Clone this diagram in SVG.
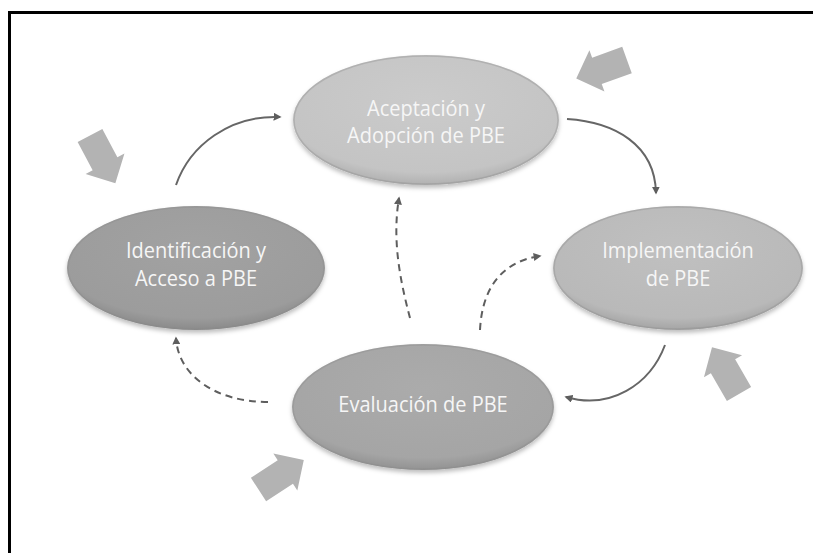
<svg xmlns="http://www.w3.org/2000/svg" width="813" height="553" viewBox="0 0 813 553">
  <style>
    .label { font-family: "Open Sans", "Liberation Sans", sans-serif; font-size: 20px; fill: #f6f6f6; text-anchor: middle; }
    .solid { fill: none; stroke: #666666; stroke-width: 2; marker-end: url(#head); }
    .dash { fill: none; stroke: #5e5e5e; stroke-width: 2; stroke-dasharray: 7 5; marker-end: url(#head); }
    .block { fill: #b3b3b3; }
    .rim { fill: none; stroke: #8a8a8a; stroke-opacity: 0.35; stroke-width: 1.5; }
  </style>
  <defs>
    <marker id="head" viewBox="0 0 10 10" refX="8" refY="5" markerWidth="4" markerHeight="4" orient="auto" markerUnits="strokeWidth">
      <path d="M0,0 L10,5 L0,10 Z" fill="#5e5e5e"/>
    </marker>
    <filter id="shadow" x="-10%" y="-10%" width="120%" height="130%">
      <feDropShadow dx="0" dy="3" stdDeviation="2" flood-color="#000" flood-opacity="0.25"/>
    </filter>
    <radialGradient id="gTop" cx="50%" cy="35%" r="65%">
      <stop offset="0" stop-color="#cbcbcb"/>
      <stop offset="0.85" stop-color="#c4c4c4"/>
      <stop offset="1" stop-color="#b0b0b0"/>
    </radialGradient>
    <radialGradient id="gRight" cx="50%" cy="35%" r="65%">
      <stop offset="0" stop-color="#c0c0c0"/>
      <stop offset="0.85" stop-color="#b9b9b9"/>
      <stop offset="1" stop-color="#a4a4a4"/>
    </radialGradient>
    <radialGradient id="gBottom" cx="50%" cy="35%" r="65%">
      <stop offset="0" stop-color="#ababab"/>
      <stop offset="0.85" stop-color="#a5a5a5"/>
      <stop offset="1" stop-color="#929292"/>
    </radialGradient>
    <radialGradient id="gLeft" cx="50%" cy="35%" r="65%">
      <stop offset="0" stop-color="#a2a2a2"/>
      <stop offset="0.85" stop-color="#9c9c9c"/>
      <stop offset="1" stop-color="#8a8a8a"/>
    </radialGradient>
    <!-- block arrow pointing along +x, tail centred at the origin -->
    <path id="blockArrow" d="M0,-14 L32,-14 L32,-22 L54,0 L32,22 L32,14 L0,14 Z"/>
  </defs>

  <rect width="813" height="553" fill="#ffffff"/>
  <!-- frame -->
  <rect x="9.5" y="12.5" width="820" height="560" fill="none" stroke="#000000" stroke-width="3"/>

  <!-- incoming block arrows -->
  <g id="block-arrows">
    <use href="#blockArrow" class="block" transform="translate(627,60) rotate(160)"/>
    <use href="#blockArrow" class="block" transform="translate(90,135.5) rotate(62)" fill="#a6a6a6"/>
    <use href="#blockArrow" class="block" transform="translate(739,394) rotate(-120)"/>
    <use href="#blockArrow" class="block" transform="translate(258.5,489.5) rotate(-33)" fill="#acacac"/>
  </g>

  <g id="node-aceptacion">
    <ellipse cx="426" cy="120" rx="133" ry="65" fill="url(#gTop)" filter="url(#shadow)"/>
    <ellipse cx="426" cy="120" rx="132" ry="64" class="rim"/>
    <text class="label" transform="translate(426,116) scale(1,1.08)">Aceptación y</text>
    <text class="label" transform="translate(426,143) scale(1,1.08)">Adopción de PBE</text>
  </g>

  <g id="node-identificacion">
    <ellipse cx="196" cy="268" rx="129" ry="62" fill="url(#gLeft)" filter="url(#shadow)"/>
    <ellipse cx="196" cy="268" rx="128" ry="61" class="rim"/>
    <text class="label" transform="translate(196,258) scale(1,1.08)">Identificación y</text>
    <text class="label" transform="translate(196,286) scale(1,1.08)">Acceso a PBE</text>
  </g>

  <g id="node-implementacion">
    <ellipse cx="678" cy="268" rx="125" ry="62" fill="url(#gRight)" filter="url(#shadow)"/>
    <ellipse cx="678" cy="268" rx="124" ry="61" class="rim"/>
    <text class="label" transform="translate(678,258) scale(1,1.08)">Implementación</text>
    <text class="label" transform="translate(678,286) scale(1,1.08)">de PBE</text>
  </g>

  <g id="node-evaluacion">
    <ellipse cx="423" cy="407" rx="131" ry="63" fill="url(#gBottom)" filter="url(#shadow)"/>
    <ellipse cx="423" cy="407" rx="130" ry="62" class="rim"/>
    <text class="label" transform="translate(423,412) scale(1,1.08)">Evaluación de PBE</text>
  </g>

  <g id="connectors">
    <path class="solid" d="M176,185 C190,145 230,115 280,117"/>
    <path class="solid" d="M567,119 C615,122 655,145 656,193"/>
    <path class="solid" d="M665,345 C650,385 610,410 566,397"/>
    <path class="dash" d="M268,402 C215,402 178,375 176,338"/>
    <path class="dash" d="M410,318 C400,280 392,240 399,198"/>
    <path class="dash" d="M480,330 C482,290 500,262 540,256"/>
  </g>
</svg>
